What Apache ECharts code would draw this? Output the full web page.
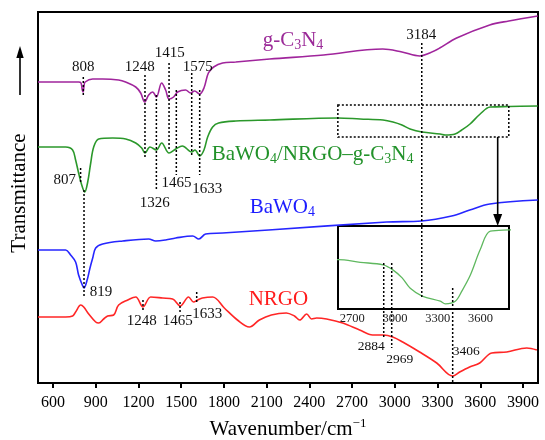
<!DOCTYPE html>
<html><head><meta charset="utf-8">
<script src="https://cdn.jsdelivr.net/npm/echarts@6/dist/echarts.min.js"></script>
<style>html,body{margin:0;padding:0;background:#fff}#c{width:545px;height:440px}</style>
</head><body><div id="c"></div>
<script>
// ---------- data (wavenumber, relative transmittance) ----------
const xTicks = [600,900,1200,1500,1800,2100,2400,2700,3000,3300,3600,3900];
const insetTicks = [2700,3000,3300,3600];

const gC3N4 = [[495,301],[700,301],[780,301],[797,300],[806,293],[812,291],[818,297],[826,301],[879,304],[949,304],[1061,303],[1110,301],[1181,296],[1216,290],[1244,281],[1272,288],[1300,291],[1326,286],[1363,300],[1391,293],[1415,284],[1447,286],[1475,291],[1531,293],[1566,290],[1594,292],[1630,289],[1660,295],[1691,310],[1728,316],[1791,320],[1883,321],[2122,324],[2500,328],[2915,334],[3050,331],[3175,327],[3245,330],[3315,335],[3434,345],[3666,358],[3800,362],[4003,367]];

const composite = [[495,236],[689,236],[738,233],[759,223],[780,210],[800,199],[823,191],[844,201],[865,220],[886,236],[921,244],[1020,245],[1111,244],[1181,240],[1223,235],[1246,230],[1281,236],[1326,233],[1363,240],[1415,230],[1462,234],[1508,237],[1574,231],[1597,233],[1630,227],[1660,233],[1686,246],[1721,256],[1763,260],[1883,262],[2122,263],[2600,265],[2756,264],[2917,263],[2987,261],[3050,258],[3107,254],[3191,251],[3318,249],[3353,248],[3423,249],[3470,253],[3528,259],[3599,269],[3669,276],[3802,276.5],[4003,277]];

const bawo4 = [[495,133],[689,133],[724,128],[759,121],[780,108],[806,98],[818,95],[840,103],[860,115],[879,125],[900,135],[949,139],[1090,142],[1272,144],[1321,142],[1391,143],[1462,145],[1581,147],[1624,144],[1672,149],[1791,150],[2114,153],[2943,161],[3188,162],[3399,167],[3526,173],[3667,179],[4003,183]];

const nrgo = [[495,66],[689,66],[738,67],[759,71],[795,78],[816,76],[851,69],[900,61],[921,60],[956,64],[984,67],[1026,68],[1061,78],[1125,83],[1181,86],[1232,76],[1286,86],[1370,85],[1440,84],[1494,77],[1552,86],[1587,81],[1616,83],[1649,85],[1721,86],[1803,75],[1895,63],[1979,56],[2049,63],[2133,68],[2238,70],[2295,67],[2332,63],[2381,69],[2416,64],[2451,65],[2521,64],[2634,60],[2753,53],[2844,48],[2922,48],[2985,46],[3055,41],[3174,31],[3294,20],[3406,7],[3455,11],[3525,16],[3596,20],[3680,30],[3786,31],[3926,35],[3997,33]];

// curve names: [rich text, left wavenumber, transmittance]
const curveNames = [
  ['{t|g-C}{s|3}{t|N}{s|4}', 2072, 343],
  ['{t|BaWO}{s|4}{t|/NRGO–g-C}{s|3}{t|N}{s|4}', 1714, 229],
  ['{t|BaWO}{s|4}', 1981, 176],
  ['{t|NRGO}', 1974, 84]
];
// peak labels: [text, wavenumber, transmittance]
const peakLabels = [
  ['808',813,316],['1248',1210,316],['1415',1420,330],['1575',1617,316],
  ['807',683,203],['1326',1315,180],['1465',1468,200],['1633',1683,194],
  ['819',938,91],['3184',3185,348],
  ['1248',1223,61.5],['1465',1476,61.5],['1633',1683,69],
  ['2884',2834,37],['2969',3034,23.5],['3406',3501,32]
];
// dotted guide lines: [wavenumber, top, bottom]
const peakLines = [
  [813,306,286],[1246,308,224],[1326,288,193],[1415,320,233],[1466,293,208],[1574,310,226],[1630,293,208],
  [794,215,201],[818,193,86],[3189,340,85],
  [1232,83,71],[1492,81,70],[1609,91,81],
  [2922,120,45],[2978,120,35],[3406,95,0]
];
const zoomBox = [2600,3800,246,278];
const zoomArrow = [3722,246,157];

// ---------- chart ----------
const F = "'Liberation Serif','Times New Roman',serif";
const COL = {purple:'#a0259c', green:'#2b982b', blue:'#2626ff', red:'#ff2626', inset:'#5fb85f'};
const nameColors = ['#9b2a98','#22922a','#1c1cff','#ff1c1c'];
const smallLabels = ['2884','2969','3406'];

const chart = echarts.init(document.getElementById('c'), null, {renderer:'canvas'});

function lineSeries(data, color, xi, yi, w) {
  return {type:'line', data, xAxisIndex:xi, yAxisIndex:yi, showSymbol:false, smooth:0.35,
    lineStyle:{color, width:w}, silent:true, animation:false};
}

chart.setOption({
  animation:false,
  textStyle:{fontFamily:F},
  grid:[
    {left:38, top:12, right:7, bottom:57, show:true, borderColor:'#000', borderWidth:2, backgroundColor:'transparent', containLabel:false, outerBoundsMode:'none'},
    {left:338, top:226, width:171, height:83, show:true, borderColor:'#000', borderWidth:2, backgroundColor:'#fff', containLabel:false, outerBoundsMode:'none'}
  ],
  xAxis:[
    {type:'value', gridIndex:0, min:495, max:4005,
     axisLine:{show:false}, splitLine:{show:false},
     axisTick:{show:true, customValues:xTicks, length:5, lineStyle:{color:'#000', width:2}},
     axisLabel:{customValues:xTicks, formatter:v => String(v), fontFamily:F, fontSize:16, color:'#000', margin:12},
     name:'{a|Wavenumber/cm}{b|−1}', nameLocation:'middle', nameGap:34,
     nameTextStyle:{rich:{a:{fontFamily:F, fontSize:21, color:'#000'}, b:{fontFamily:F, fontSize:13, color:'#000', padding:[0,0,12,0]}}}
    },
    {type:'value', gridIndex:1, min:2600, max:3800,
     axisLine:{show:false}, splitLine:{show:false}, axisTick:{show:false},
     axisLabel:{customValues:insetTicks, formatter:v => String(v), fontFamily:F, fontSize:12.5, color:'#222', margin:3}}
  ],
  yAxis:[
    {type:'value', gridIndex:0, min:0, max:371, show:false},
    {type:'value', gridIndex:1, min:zoomBox[2], max:zoomBox[3], show:false}
  ],
  graphic:[
    {type:'text', x:19, y:193, rotation:Math.PI/2,
     style:{text:'Transmittance', fontFamily:F, fontSize:21, fill:'#000', align:'center', verticalAlign:'middle'}},
    {type:'line', shape:{x1:20, y1:95, x2:20, y2:55}, style:{stroke:'#000', lineWidth:1.6}},
    {type:'polygon', shape:{points:[[20,46],[16.3,58],[23.7,58]]}, style:{fill:'#000'}}
  ],
  series:[
    lineSeries(gC3N4, COL.purple, 0, 0, 1.6),
    lineSeries(composite, COL.green, 0, 0, 1.6),
    lineSeries(bawo4, COL.blue, 0, 0, 1.6),
    lineSeries(nrgo, COL.red, 0, 0, 1.6),
    lineSeries(composite, COL.inset, 1, 1, 1.3),
    { // dotted guide lines
      type:'custom', xAxisIndex:0, yAxisIndex:0, silent:true, z:5,
      data: peakLines,
      renderItem:(params, api) => {
        const a = api.coord([api.value(0), api.value(1)]);
        const b = api.coord([api.value(0), api.value(2)]);
        return {type:'line', shape:{x1:a[0], y1:a[1], x2:b[0], y2:b[1]},
          style:{stroke:'#000', lineWidth:1.5, lineDash:[2,2]}};
      }
    },
    { // zoom box and arrow
      type:'custom', xAxisIndex:0, yAxisIndex:0, silent:true, z:5,
      data:[[zoomArrow[0], zoomArrow[1]]],
      renderItem:(params, api) => {
        const p1 = api.coord([zoomBox[0], zoomBox[3]]);
        const p2 = api.coord([zoomBox[1], zoomBox[2]]);
        const a1 = api.coord([zoomArrow[0], zoomArrow[1]]);
        const a2 = api.coord([zoomArrow[0], zoomArrow[2]]);
        return {type:'group', children:[
          {type:'rect', shape:{x:p1[0], y:p1[1], width:p2[0]-p1[0], height:p2[1]-p1[1]},
           style:{fill:'none', stroke:'#000', lineWidth:1.5, lineDash:[2,2]}},
          {type:'line', shape:{x1:a1[0], y1:a1[1], x2:a2[0], y2:a2[1]-8},
           style:{stroke:'#000', lineWidth:1.6}},
          {type:'polygon', shape:{points:[[a2[0],a2[1]],[a2[0]-4.5,a2[1]-12],[a2[0]+4.5,a2[1]-12]]},
           style:{fill:'#000'}}
        ]};
      }
    },
    { // peak labels
      type:'custom', xAxisIndex:0, yAxisIndex:0, silent:true, z:6,
      data: peakLabels.map(p => [p[1], p[2]]),
      renderItem:(params, api) => {
        const t = peakLabels[params.dataIndex][0];
        const p = api.coord([api.value(0), api.value(1)]);
        const small = params.dataIndex >= peakLabels.length - 3 && smallLabels.includes(t);
        return {type:'text', x:p[0], y:p[1],
          style:{text:t, fontFamily:F, fontSize: small ? 13.5 : 15, fill:'#111', align:'center', verticalAlign:'middle'}};
      }
    },
    { // curve names
      type:'custom', xAxisIndex:0, yAxisIndex:0, silent:true, z:6,
      data: curveNames.map(p => [p[1], p[2]]),
      renderItem:(params, api) => {
        const i = params.dataIndex;
        const col = nameColors[i];
        const p = api.coord([api.value(0), api.value(1)]);
        return {type:'text', x:p[0], y:p[1],
          style:{text:curveNames[i][0], fill:col, align:'left', verticalAlign:'middle',
            fontFamily:F, fontSize:21,
            rich:{t:{fontFamily:F, fontSize:21, fill:col},
                  s:{fontFamily:F, fontSize:14, fill:col, padding:[10,0,0,0]}}}};
      }
    }
  ]
});
</script>
</body></html>
